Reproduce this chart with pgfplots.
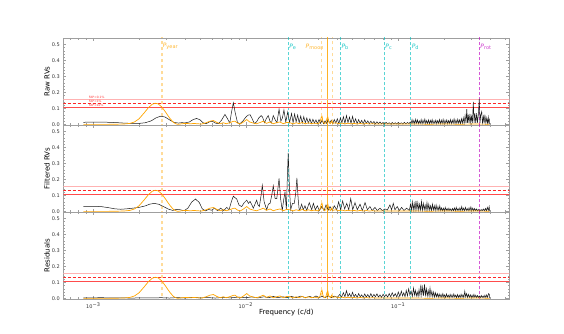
\documentclass[border=0pt]{standalone}
\usepackage{pgfplots}
\pgfplotsset{compat=1.18}
\usepackage{pgfplotstable}
\usepackage{fontspec}
\setmainfont{DejaVu Sans}

\definecolor{mplorange}{HTML}{FFA500}
\definecolor{mplc}{rgb}{0,0.75,0.75}
\definecolor{mplm}{rgb}{0.75,0,0.75}

% x column: log10 of frequency (c/d)
\pgfplotstableread{
lf p
-3.066 0.013
-3.00 0.014
-2.95 0.014
-2.90 0.013
-2.85 0.011
-2.80 0.008
-2.75 0.006
-2.70 0.006
-2.66 0.010
-2.62 0.022
-2.59 0.040
-2.56 0.051
-2.53 0.046
-2.50 0.028
-2.47 0.012
-2.44 0.008
-2.42 0.011
-2.40 0.009
-2.37 0.015
-2.345 0.030
-2.322 0.037
-2.30 0.028
-2.28 0.010
-2.26 0.004
-2.24 0.015
-2.22 0.020
-2.20 0.008
-2.18 0.004
-2.16 0.025
-2.137 0.062
-2.12 0.035
-2.105 0.008
-2.095 0.070
-2.082 0.135
-2.07 0.075
-2.055 0.012
-2.04 0.003
-2.02 0.020
-2.00 0.045
-1.985 0.058
-1.972 0.060
-1.958 0.035
-1.945 0.006
-1.93 0.015
-1.915 0.040
-1.90 0.055
-1.89 0.045
-1.878 0.010
-1.866 0.035
-1.853 0.055
-1.842 0.020
-1.832 0.008
-1.820 0.055
-1.808 0.030
-1.796 0.010
-1.782 0.095
-1.770 0.020
-1.760 0.040
-1.750 0.090
-1.738 0.015
-1.725 0.078
-1.713 0.012
-1.700 0.068
-1.690 0.010
-1.680 0.065
-1.670 0.015
-1.660 0.058
-1.650 0.010
-1.640 0.052
-1.630 0.008
-1.620 0.048
-1.610 0.010
-1.600 0.040
-1.590 0.008
-1.580 0.035
-1.570 0.005
-1.560 0.032
-1.550 0.008
-1.540 0.028
-1.530 0.004
-1.520 0.030
-1.510 0.006
-1.500 0.025
-1.490 0.004
-1.480 0.022
-1.470 0.006
-1.460 0.030
-1.450 0.008
-1.440 0.026
-1.430 0.005
-1.420 0.030
-1.410 0.008
-1.400 0.035
-1.390 0.004
-1.380 0.040
-1.370 0.010
-1.360 0.048
-1.350 0.006
-1.340 0.055
-1.330 0.010
-1.320 0.045
-1.310 0.006
-1.300 0.050
-1.290 0.008
-1.280 0.035
-1.270 0.004
-1.260 0.030
-1.250 0.006
-1.240 0.025
-1.230 0.004
-1.220 0.028
-1.210 0.006
-1.200 0.022
-1.190 0.004
-1.180 0.020
-1.170 0.005
-1.160 0.018
-1.150 0.003
-1.140 0.016
-1.130 0.004
-1.120 0.015
-1.110 0.003
-1.100 0.012
-1.090 0.002
-1.080 0.012
-1.070 0.003
-1.060 0.010
-1.050 0.002
-1.040 0.012
-1.030 0.003
-1.020 0.010
-1.010 0.002
-1.000 0.012
-0.990 0.003
-0.980 0.010
-0.970 0.002
-0.960 0.013
-0.950 0.003
-0.940 0.012
-0.930 0.004
-0.922 0.015
-0.916 0.004
-0.910 0.030
-0.904 0.005
-0.898 0.025
-0.892 0.003
-0.886 0.032
-0.880 0.006
-0.874 0.028
-0.868 0.004
-0.862 0.022
-0.856 0.005
-0.850 0.030
-0.844 0.003
-0.838 0.026
-0.832 0.006
-0.826 0.033
-0.820 0.004
-0.814 0.024
-0.808 0.005
-0.802 0.028
-0.796 0.003
-0.790 0.025
-0.784 0.006
-0.778 0.030
-0.772 0.004
-0.766 0.022
-0.760 0.005
-0.754 0.027
-0.748 0.003
-0.742 0.024
-0.736 0.006
-0.730 0.030
-0.724 0.004
-0.718 0.026
-0.712 0.005
-0.706 0.032
-0.700 0.004
-0.694 0.025
-0.688 0.006
-0.682 0.028
-0.676 0.003
-0.670 0.024
-0.664 0.005
-0.658 0.030
-0.652 0.004
-0.646 0.026
-0.640 0.006
-0.634 0.034
-0.628 0.004
-0.622 0.027
-0.616 0.005
-0.610 0.032
-0.604 0.006
-0.598 0.028
-0.592 0.004
-0.586 0.035
-0.580 0.006
-0.574 0.040
-0.568 0.005
-0.562 0.055
-0.556 0.008
-0.551 0.095
-0.546 0.010
-0.541 0.060
-0.536 0.008
-0.530 0.065
-0.525 0.010
-0.520 0.050
-0.514 0.008
-0.508 0.140
-0.503 0.010
-0.498 0.070
-0.492 0.008
-0.486 0.070
-0.481 0.010
-0.475 0.060
-0.469 0.160
-0.464 0.010
-0.459 0.060
-0.453 0.080
-0.448 0.008
-0.442 0.050
-0.437 0.006
-0.432 0.060
-0.426 0.008
-0.420 0.040
-0.415 0.006
-0.410 0.045
-0.406 0.005
-0.403 0.035
-0.402 0.000
}\rawB

\pgfplotstableread{
lf p
-3.066 0.031
-3.00 0.031
-2.95 0.030
-2.90 0.023
-2.86 0.016
-2.82 0.013
-2.78 0.016
-2.74 0.020
-2.70 0.025
-2.66 0.034
-2.63 0.045
-2.60 0.050
-2.57 0.044
-2.54 0.030
-2.51 0.015
-2.48 0.006
-2.455 0.012
-2.43 0.010
-2.405 0.004
-2.38 0.020
-2.355 0.058
-2.33 0.077
-2.305 0.055
-2.285 0.015
-2.265 0.003
-2.245 0.012
-2.225 0.007
-2.205 0.020
-2.185 0.004
-2.165 0.020
-2.145 0.005
-2.125 0.025
-2.11 0.010
-2.095 0.060
-2.082 0.095
-2.070 0.085
-2.060 0.078
-2.045 0.040
-2.027 0.030
-2.010 0.055
-1.994 0.070
-1.983 0.050
-1.972 0.062
-1.960 0.040
-1.951 0.020
-1.940 0.045
-1.929 0.070
-1.920 0.040
-1.911 0.030
-1.900 0.100
-1.892 0.163
-1.880 0.060
-1.863 0.010
-1.852 0.045
-1.841 0.050
-1.830 0.100
-1.820 0.160
-1.808 0.080
-1.797 0.080
-1.790 0.140
-1.782 0.206
-1.772 0.080
-1.761 0.005
-1.752 0.070
-1.743 0.120
-1.734 0.010
-1.728 0.200
-1.722 0.366
-1.714 0.150
-1.706 0.010
-1.694 0.050
-1.682 0.050
-1.672 0.120
-1.665 0.210
-1.657 0.080
-1.650 0.010
-1.645 0.010
-1.634 0.045
-1.623 0.010
-1.612 0.035
-1.601 0.005
-1.584 0.055
-1.568 0.010
-1.557 0.050
-1.544 0.010
-1.531 0.035
-1.518 0.005
-1.502 0.030
-1.487 0.005
-1.474 0.040
-1.459 0.008
-1.448 0.030
-1.433 0.005
-1.420 0.035
-1.404 0.010
-1.391 0.060
-1.378 0.010
-1.365 0.065
-1.352 0.015
-1.338 0.050
-1.325 0.010
-1.312 0.080
-1.299 0.010
-1.284 0.055
-1.269 0.010
-1.251 0.045
-1.236 0.005
-1.218 0.055
-1.203 0.010
-1.186 0.030
-1.171 0.005
-1.153 0.025
-1.138 0.005
-1.120 0.020
-1.105 0.005
-1.087 0.015
-1.072 0.008
-1.055 0.040
-1.044 0.010
-1.033 0.050
-1.022 0.010
-1.007 0.030
-0.993 0.005
-0.978 0.025
-0.963 0.005
-0.945 0.020
-0.928 0.005
-0.920 0.045
-0.914 0.006
-0.908 0.060
-0.902 0.008
-0.896 0.050
-0.890 0.005
-0.884 0.065
-0.878 0.010
-0.872 0.055
-0.866 0.006
-0.860 0.045
-0.854 0.008
-0.848 0.062
-0.842 0.006
-0.836 0.050
-0.830 0.010
-0.824 0.040
-0.818 0.005
-0.812 0.055
-0.806 0.008
-0.800 0.045
-0.794 0.006
-0.788 0.035
-0.782 0.005
-0.776 0.045
-0.770 0.008
-0.764 0.035
-0.758 0.005
-0.752 0.040
-0.746 0.006
-0.740 0.030
-0.734 0.005
-0.728 0.035
-0.722 0.004
-0.716 0.022
-0.710 0.004
-0.704 0.020
-0.698 0.003
-0.692 0.025
-0.686 0.005
-0.680 0.018
-0.674 0.003
-0.668 0.020
-0.662 0.004
-0.656 0.015
-0.650 0.003
-0.644 0.018
-0.638 0.004
-0.632 0.022
-0.626 0.003
-0.620 0.025
-0.614 0.005
-0.608 0.018
-0.602 0.004
-0.596 0.022
-0.590 0.003
-0.584 0.030
-0.578 0.005
-0.572 0.020
-0.566 0.004
-0.560 0.025
-0.554 0.005
-0.548 0.018
-0.542 0.003
-0.536 0.022
-0.530 0.004
-0.524 0.028
-0.518 0.005
-0.512 0.020
-0.506 0.003
-0.500 0.018
-0.494 0.004
-0.488 0.015
-0.482 0.003
-0.476 0.012
-0.470 0.004
-0.464 0.010
-0.458 0.003
-0.452 0.012
-0.446 0.004
-0.440 0.015
-0.434 0.003
-0.428 0.018
-0.422 0.004
-0.416 0.025
-0.410 0.005
-0.404 0.030
-0.400 0.000
}\filtB

\pgfplotstableread{
lf p
-3.066 0.003
-2.95 0.004
-2.85 0.003
-2.75 0.002
-2.65 0.003
-2.55 0.004
-2.50 0.002
-2.45 0.005
-2.40 0.002
-2.35 0.006
-2.30 0.003
-2.25 0.005
-2.20 0.002
-2.15 0.006
-2.10 0.003
-2.05 0.008
-2.00 0.004
-1.96 0.009
-1.92 0.003
-1.88 0.010
-1.85 0.004
-1.82 0.012
-1.79 0.004
-1.76 0.010
-1.73 0.005
-1.70 0.012
-1.67 0.004
-1.64 0.014
-1.61 0.005
-1.58 0.012
-1.56 0.004
-1.54 0.015
-1.52 0.005
-1.50 0.012
-1.48 0.004
-1.46 0.016
-1.44 0.005
-1.42 0.014
-1.40 0.006
-1.383 0.025
-1.372 0.008
-1.360 0.035
-1.350 0.010
-1.340 0.048
-1.330 0.012
-1.320 0.030
-1.310 0.008
-1.300 0.038
-1.290 0.010
-1.280 0.025
-1.270 0.006
-1.260 0.030
-1.250 0.010
-1.240 0.022
-1.230 0.006
-1.220 0.028
-1.210 0.008
-1.200 0.024
-1.190 0.006
-1.180 0.030
-1.170 0.008
-1.160 0.025
-1.150 0.010
-1.140 0.028
-1.130 0.008
-1.120 0.022
-1.110 0.006
-1.100 0.026
-1.090 0.010
-1.080 0.024
-1.070 0.008
-1.060 0.030
-1.050 0.010
-1.040 0.035
-1.030 0.012
-1.020 0.030
-1.010 0.008
-1.000 0.040
-0.990 0.012
-0.980 0.045
-0.972 0.015
-0.964 0.035
-0.956 0.010
-0.948 0.050
-0.940 0.015
-0.932 0.060
-0.924 0.020
-0.916 0.045
-0.908 0.012
-0.900 0.065
-0.894 0.020
-0.888 0.050
-0.882 0.015
-0.876 0.040
-0.870 0.012
-0.864 0.055
-0.858 0.018
-0.852 0.085
-0.846 0.020
-0.840 0.070
-0.834 0.015
-0.828 0.088
-0.822 0.020
-0.816 0.060
-0.810 0.015
-0.804 0.050
-0.798 0.012
-0.792 0.065
-0.786 0.015
-0.780 0.045
-0.774 0.010
-0.768 0.040
-0.762 0.008
-0.756 0.035
-0.750 0.010
-0.744 0.030
-0.738 0.006
-0.732 0.028
-0.726 0.008
-0.720 0.025
-0.714 0.005
-0.708 0.030
-0.702 0.008
-0.696 0.022
-0.690 0.005
-0.684 0.028
-0.678 0.008
-0.672 0.020
-0.666 0.004
-0.660 0.025
-0.654 0.006
-0.648 0.022
-0.642 0.005
-0.636 0.028
-0.630 0.008
-0.624 0.020
-0.618 0.004
-0.612 0.024
-0.606 0.006
-0.600 0.020
-0.594 0.005
-0.588 0.026
-0.582 0.007
-0.576 0.022
-0.570 0.005
-0.564 0.045
-0.558 0.008
-0.552 0.030
-0.546 0.006
-0.540 0.025
-0.534 0.005
-0.528 0.022
-0.522 0.006
-0.516 0.020
-0.510 0.004
-0.504 0.025
-0.498 0.006
-0.492 0.020
-0.486 0.004
-0.480 0.018
-0.474 0.005
-0.468 0.015
-0.462 0.004
-0.456 0.018
-0.450 0.005
-0.444 0.015
-0.438 0.004
-0.432 0.020
-0.426 0.005
-0.420 0.022
-0.414 0.006
-0.408 0.030
-0.403 0.025
-0.402 0.000
}\resB

\pgfplotstableread{
lf p
-3.066 0.000
-3.00 0.000
-2.90 0.000
-2.85 0.001
-2.80 0.002
-2.76 0.006
-2.73 0.015
-2.70 0.035
-2.67 0.068
-2.64 0.103
-2.615 0.125
-2.595 0.132
-2.575 0.128
-2.55 0.108
-2.525 0.075
-2.50 0.040
-2.475 0.012
-2.455 0.002
-2.443 0.000
-2.42 0.004
-2.39 0.006
-2.36 0.003
-2.344 0.006
-2.32 0.004
-2.29 0.002
-2.26 0.010
-2.235 0.020
-2.213 0.024
-2.19 0.012
-2.168 0.004
-2.148 0.010
-2.128 0.004
-2.10 0.012
-2.085 0.018
-2.071 0.020
-2.055 0.008
-2.035 0.003
-2.015 0.015
-1.994 0.030
-1.975 0.015
-1.951 0.008
-1.93 0.004
-1.905 0.012
-1.885 0.020
-1.865 0.006
-1.841 0.015
-1.82 0.004
-1.80 0.010
-1.776 0.015
-1.755 0.004
-1.732 0.012
-1.710 0.010
-1.69 0.003
-1.67 0.010
-1.65 0.004
-1.63 0.012
-1.61 0.003
-1.59 0.010
-1.57 0.004
-1.55 0.008
-1.53 0.003
-1.515 0.010
-1.505 0.045
-1.500 0.050
-1.495 0.020
-1.485 0.004
-1.475 0.010
-1.467 0.040
-1.462 0.045
-1.456 0.015
-1.445 0.005
-1.437 0.020
-1.430 0.006
-1.41 0.010
-1.39 0.004
-1.37 0.008
-1.35 0.003
-1.33 0.007
-1.31 0.003
-1.29 0.006
-1.27 0.002
-1.25 0.006
-1.23 0.002
-1.21 0.005
-1.19 0.002
-1.17 0.004
-1.15 0.002
-1.10 0.003
-1.05 0.002
-1.00 0.002
-0.90 0.002
-0.80 0.001
-0.70 0.002
-0.60 0.001
-0.50 0.002
-0.403 0.001
}\win

\pgfplotsset{
  panel/.style={
    scale only axis, width=446pt, height=87pt,
    xmin=-3.197, xmax=-0.272, ymin=-0.004, ymax=0.54,
    axis line style={draw=gray!75},
    every tick/.style={gray!75, line width=0.4pt},
    tick align=inside, tick pos=both,
    major tick length=3pt, minor tick length=1.6pt,
    xtick={-3,-2,-1},
    minor xtick={-3.155,-3.097,-3.046,-2.699,-2.523,-2.398,-2.301,-2.222,-2.155,-2.097,-2.046,-1.699,-1.523,-1.398,-1.301,-1.222,-1.155,-1.097,-1.046,-0.699,-0.523,-0.398,-0.301},
    ytick={0,0.1,0.2,0.3,0.4,0.5},
    minor y tick num=4,
    /pgf/number format/assume math mode=true,
    yticklabel style={font=\fontsize{5}{6}\selectfont, text=black!80,
      /pgf/number format/fixed, /pgf/number format/fixed zerofill,
      /pgf/number format/precision=1},
    xticklabel style={font=\fontsize{5}{6}\selectfont, text=black!80},
    xticklabels={},
    every axis y label/.style={at={(axis description cs:-0.0365,0.5)}, rotate=90, anchor=center, font=\fontsize{7}{8}\selectfont},
    clip=true,
  },
  blk/.style={black!90, line width=0.5pt},
  win/.style={mplorange, line width=0.7pt},
  fap1/.style={red!30, line width=0.7pt},
  fap2/.style={red!85, densely dashed, line width=0.5pt},
  fap3/.style={red!70, line width=0.6pt},
  yearl/.style={mplorange, opacity=0.4, dashed, line width=1.8pt},
  moonc/.style={mplorange, opacity=0.85, line width=0.7pt},
  moons/.style={mplorange, opacity=0.4, dashed, line width=0.6pt},
  cyl/.style={mplc, opacity=0.65, densely dashed, line width=0.55pt},
  rotl/.style={mplm, opacity=0.65, densely dashed, line width=0.55pt},
}

\newcommand{\reflines}{%
  \addplot[yearl] coordinates {(-2.552,-0.1) (-2.552,0.6)};
  \addplot[cyl] coordinates {(-1.723,-0.1) (-1.723,0.6)};
  \addplot[moons] coordinates {(-1.502,-0.1) (-1.502,0.6)};
  \addplot[moonc] coordinates {(-1.463,-0.1) (-1.463,0.6)};
  \addplot[moons] coordinates {(-1.433,-0.1) (-1.433,0.6)};
  \addplot[cyl] coordinates {(-1.380,-0.1) (-1.380,0.6)};
  \addplot[cyl] coordinates {(-1.092,-0.1) (-1.092,0.6)};
  \addplot[cyl] coordinates {(-0.919,-0.1) (-0.919,0.6)};
  \addplot[rotl] coordinates {(-0.469,-0.1) (-0.469,0.6)};
  \addplot[fap1] coordinates {(-3.3,0.156) (0,0.156)};
  \addplot[fap2] coordinates {(-3.3,0.131) (0,0.131)};
  \addplot[fap3] coordinates {(-3.3,0.106) (0,0.106)};
}

\begin{document}
\begin{tikzpicture}
\useasboundingbox (0,0) rectangle (564pt,334pt);

\begin{axis}[panel, at={(63.3pt,209pt)}, anchor=south west, ylabel={Raw RVs}]
\reflines
\addplot[blk] table[x=lf,y=p]{\rawB};
\addplot[win] table[x=lf,y=p]{\win};
\begin{scope}[every node/.style={anchor=west, inner sep=1pt, font=\fontsize{6}{7}\selectfont}]
\node[text=mplorange!80] at (axis cs:-2.552,0.485) {\textit{P}\textsubscript{year}};
\node[text=mplc!85] at (axis cs:-1.723,0.485) {\textit{P}\textsubscript{e}};
\node[text=mplorange!80] at (axis cs:-1.615,0.485) {\textit{P}\textsubscript{moon}};
\node[text=mplc!85] at (axis cs:-1.380,0.485) {\textit{P}\textsubscript{b}};
\node[text=mplc!85] at (axis cs:-1.092,0.485) {\textit{P}\textsubscript{c}};
\node[text=mplc!85] at (axis cs:-0.919,0.485) {\textit{P}\textsubscript{d}};
\node[text=mplm!75] at (axis cs:-0.469,0.485) {\textit{P}\textsubscript{rot}};
\end{scope}
\begin{scope}[every node/.style={anchor=west, inner sep=0pt, text=red!80, font=\fontsize{3}{3.5}\selectfont}]
\node at (axis cs:-3.03,0.166) {FAP=0.1\%};
\node at (axis cs:-3.03,0.141) {FAP=1\%};
\node at (axis cs:-3.03,0.119) {FAP=10\%};
\end{scope}
\end{axis}

\begin{axis}[panel, at={(63.3pt,122pt)}, anchor=south west, ylabel={Filtered RVs}]
\reflines
\addplot[blk] table[x=lf,y=p]{\filtB};
\addplot[win] table[x=lf,y=p]{\win};
\end{axis}

\begin{axis}[panel, at={(63.3pt,35pt)}, anchor=south west, ylabel={Residuals},
  xticklabels={10\textsuperscript{−3},10\textsuperscript{−2},10\textsuperscript{−1}},
  xlabel={Frequency (c/d)},
  xlabel style={at={(axis description cs:0.5,-0.16)}, anchor=center, font=\fontsize{7}{8}\selectfont}]
\reflines
\addplot[blk] table[x=lf,y=p]{\resB};
\addplot[win] table[x=lf,y=p]{\win};
\end{axis}
\end{tikzpicture}
\end{document}
